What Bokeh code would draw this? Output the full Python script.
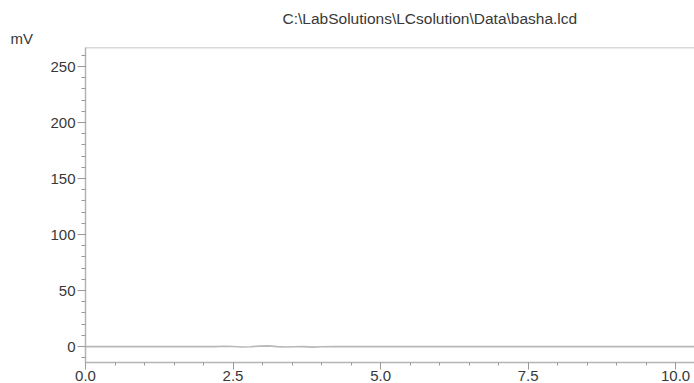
from bokeh.plotting import figure
from bokeh.models import Range1d, SingleIntervalTicker, Span, Title, NumeralTickFormatter
from bokeh.embed import file_html
from bokeh.resources import INLINE

# chromatogram trace (minutes, mV)
time_min = [0.0, 2.2, 2.35, 2.5, 2.65, 2.8, 2.95, 3.1, 3.25, 3.4, 3.55, 3.7, 3.85, 4.0, 4.2, 10.32]
signal_mv = [0.0, 0.0, 0.3, 0.1, -0.3, -0.2, 0.4, 0.6, 0.0, -0.3, -0.1, 0.0, -0.5, -0.2, 0.0, 0.0]

x_start, x_end = 0.0, 10.32
y_start, y_end = -14.2, 267.0
x_tick_step = 2.5
y_tick_step = 50
file_title = r"C:\LabSolutions\LCsolution\Data\basha.lcd"
y_unit = "mV"

FONT = "Liberation Sans"
TXT = "#383838"
AX = "#b4b4b4"

p = figure(width=694, height=383, output_backend="svg", toolbar_location=None,
           x_range=Range1d(x_start, x_end), y_range=Range1d(y_start, y_end),
           min_border_left=85, min_border_right=0, min_border_top=47, min_border_bottom=0)
p.outline_line_color = None
p.xgrid.visible = False
p.ygrid.visible = False
p.background_fill_color = "white"
p.border_fill_color = "white"

p.line(time_min, signal_mv, line_color="#b8b8b8", line_width=1.6)

p.add_layout(Span(location=y_end, dimension="width", line_color=AX, line_width=1.5))

for ax in (p.xaxis[0], p.yaxis[0]):
    ax.axis_line_color = AX
    ax.axis_line_width = 1.5
    ax.major_tick_line_color = "#999999"
    ax.minor_tick_line_color = "#999999"
    ax.major_tick_in = 0
    ax.minor_tick_in = 0
    ax.major_label_text_font = FONT
    ax.major_label_text_font_size = "15px"
    ax.major_label_text_color = TXT

p.xaxis[0].ticker = SingleIntervalTicker(interval=x_tick_step, num_minor_ticks=5)
p.xaxis[0].formatter = NumeralTickFormatter(format="0.0")
p.xaxis[0].major_tick_out = 7
p.xaxis[0].minor_tick_out = 3
p.xaxis[0].major_label_standoff = 1

p.yaxis[0].ticker = SingleIntervalTicker(interval=y_tick_step, num_minor_ticks=5)
p.yaxis[0].major_tick_out = 8
p.yaxis[0].minor_tick_out = 4
p.yaxis[0].major_label_standoff = 2

# outer title: file path
p.title.text = file_title
p.title.align = "left"
p.title.offset = 197
p.title.text_font = FONT
p.title.text_font_size = "15.5px"
p.title.text_font_style = "normal"
p.title.text_color = TXT
p.title.standoff = 0

# inner title: unit label
p.add_layout(Title(text=y_unit, align="left", offset=-75, text_font=FONT,
                   text_font_size="15px", text_font_style="normal", text_color=TXT,
                   standoff=2), "above")

open("out.html", "w").write(file_html(p, INLINE))
